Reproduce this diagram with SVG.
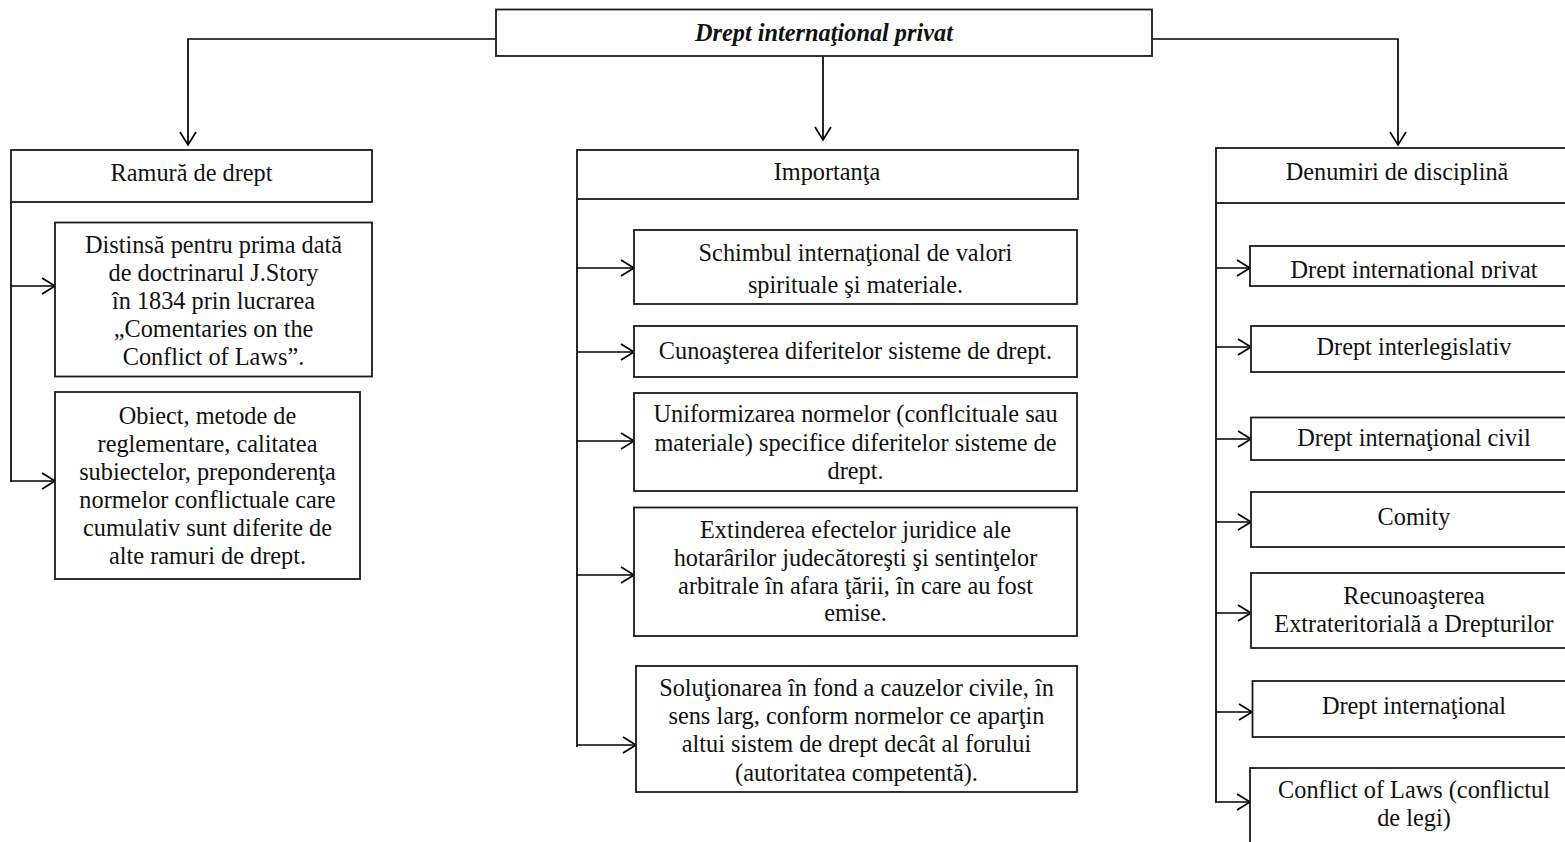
<svg xmlns="http://www.w3.org/2000/svg" width="1565" height="842" viewBox="0 0 1565 842">
<style>
.box{fill:#fff;stroke:#1a1a1a;stroke-width:1.8}
.t{font-family:"Liberation Serif","Times New Roman",serif;font-size:24.3px;fill:#111;text-anchor:middle}
.title{font-weight:bold;font-style:italic}
.ln{fill:none;stroke:#000;stroke-width:1.7}
.ar{fill:none;stroke:#000;stroke-width:1.7;marker-end:url(#arr)}
</style>
<defs>
<marker id="arr" viewBox="-15 -10 17 20" refX="0" refY="0" markerWidth="17" markerHeight="20" markerUnits="userSpaceOnUse" orient="auto">
<path d="M-13,-8 L0,0 L-13,8" fill="none" stroke="#000" stroke-width="1.7"/>
</marker>
<clipPath id="clipPrivat"><rect x="1250" y="246" width="330" height="32.5"/></clipPath>
</defs>
<rect x="0" y="0" width="1565" height="842" fill="#fff"/>

<g id="connectors">
<path class="ar" d="M496,39 H188 V145"/>
<path class="ar" d="M823,56 V140"/>
<path class="ar" d="M1152,39 H1398 V145"/>
<path class="ln" d="M11,202 V482"/>
<path class="ar" d="M11,286 H55"/>
<path class="ar" d="M11,481 H55"/>
<path class="ln" d="M577,199 V747"/>
<path class="ar" d="M577,268 H634"/>
<path class="ar" d="M577,352 H634"/>
<path class="ar" d="M577,441 H634"/>
<path class="ar" d="M577,575 H634"/>
<path class="ar" d="M577,745 H636"/>
<path class="ln" d="M1216,203 V803"/>
<path class="ar" d="M1216,268 H1250"/>
<path class="ar" d="M1216,347 H1251"/>
<path class="ar" d="M1216,439 H1251"/>
<path class="ar" d="M1216,522 H1251"/>
<path class="ar" d="M1216,613 H1251"/>
<path class="ar" d="M1216,712 H1252"/>
<path class="ar" d="M1216,802 H1250"/>
</g>

<g id="root">
<rect class="box" x="496" y="9.5" width="656" height="46.5"/>
<text class="t title" x="824" y="41">Drept internaţional privat</text>
</g>

<g id="ramura">
<rect class="box" x="11" y="150" width="361" height="52"/>
<text class="t" x="191.5" y="181">Ramură de drept</text>
</g>
<g id="distinsa">
<rect class="box" x="55" y="222.5" width="317" height="154"/>
<text class="t"><tspan x="213.5" y="253">Distinsă pentru prima dată</tspan><tspan x="213.5" y="281">de doctrinarul J.Story</tspan><tspan x="213.5" y="309">în 1834 prin lucrarea</tspan><tspan x="213.5" y="337">„Comentaries on the</tspan><tspan x="213.5" y="365">Conflict of Laws”.</tspan></text>
</g>
<g id="obiect">
<rect class="box" x="55" y="392" width="305" height="187"/>
<text class="t"><tspan x="207.5" y="424">Obiect, metode de</tspan><tspan x="207.5" y="452">reglementare, calitatea</tspan><tspan x="207.5" y="480">subiectelor, preponderenţa</tspan><tspan x="207.5" y="508">normelor conflictuale care</tspan><tspan x="207.5" y="536">cumulativ sunt diferite de</tspan><tspan x="207.5" y="564">alte ramuri de drept.</tspan></text>
</g>

<g id="importanta">
<rect class="box" x="577" y="150" width="501" height="49"/>
<text class="t" x="827" y="180">Importanţa</text>
</g>
<g id="schimbul">
<rect class="box" x="634" y="230" width="443" height="74"/>
<text class="t"><tspan x="855.5" y="261">Schimbul internaţional de valori</tspan><tspan x="855.5" y="293">spirituale şi materiale.</tspan></text>
</g>
<g id="cunoasterea">
<rect class="box" x="634" y="326" width="443" height="51"/>
<text class="t" x="855.5" y="359">Cunoaşterea diferitelor sisteme de drept.</text>
</g>
<g id="uniformizarea">
<rect class="box" x="634" y="393" width="443" height="98"/>
<text class="t"><tspan x="855.5" y="422">Uniformizarea normelor (conflcituale sau</tspan><tspan x="855.5" y="451">materiale) specifice diferitelor sisteme de</tspan><tspan x="855.5" y="479">drept.</tspan></text>
</g>
<g id="extinderea">
<rect class="box" x="634" y="507.5" width="443" height="128.5"/>
<text class="t"><tspan x="855.5" y="537.5">Extinderea efectelor juridice ale</tspan><tspan x="855.5" y="566">hotarârilor judecătoreşti şi sentinţelor</tspan><tspan x="855.5" y="594">arbitrale în afara ţării, în care au fost</tspan><tspan x="855.5" y="621">emise.</tspan></text>
</g>
<g id="solutionarea">
<rect class="box" x="636" y="666" width="441" height="126"/>
<text class="t"><tspan x="856.5" y="695.5">Soluţionarea în fond a cauzelor civile, în</tspan><tspan x="856.5" y="724">sens larg, conform normelor ce aparţin</tspan><tspan x="856.5" y="752">altui sistem de drept decât al forului</tspan><tspan x="856.5" y="780.5">(autoritatea competentă).</tspan></text>
</g>

<g id="denumiri">
<rect class="box" x="1216" y="148" width="364" height="55"/>
<text class="t" x="1397" y="180">Denumiri de disciplină</text>
</g>
<g id="den-privat">
<rect class="box" x="1250" y="246" width="330" height="40"/>
<text class="t" x="1414" y="278" clip-path="url(#clipPrivat)">Drept international privat</text>
</g>
<g id="den-interlegislativ">
<rect class="box" x="1251" y="326" width="329" height="46"/>
<text class="t" x="1414" y="355">Drept interlegislativ</text>
</g>
<g id="den-civil">
<rect class="box" x="1251" y="417.5" width="329" height="42.5"/>
<text class="t" x="1414" y="446">Drept internaţional civil</text>
</g>
<g id="den-comity">
<rect class="box" x="1251" y="492" width="329" height="55"/>
<text class="t" x="1414" y="525">Comity</text>
</g>
<g id="den-recunoasterea">
<rect class="box" x="1251" y="573" width="329" height="75"/>
<text class="t"><tspan x="1414" y="604">Recunoaşterea</tspan><tspan x="1414" y="632">Extrateritorială a Drepturilor</tspan></text>
</g>
<g id="den-international">
<rect class="box" x="1252.5" y="681" width="328" height="56"/>
<text class="t" x="1414" y="714">Drept internaţional</text>
</g>
<g id="den-conflict">
<rect class="box" x="1250" y="768" width="330" height="90"/>
<text class="t"><tspan x="1414" y="798">Conflict of Laws (conflictul</tspan><tspan x="1414" y="826">de legi)</tspan></text>
</g>
</svg>
